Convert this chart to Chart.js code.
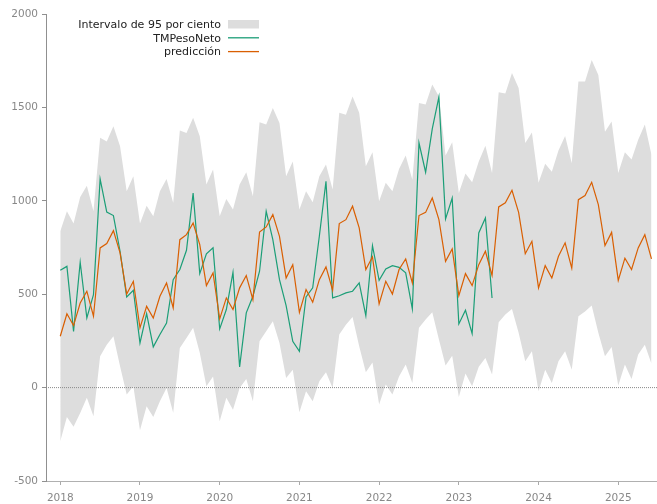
<!DOCTYPE html>
<html>
<head>
<meta charset="utf-8">
<script src="https://cdn.jsdelivr.net/npm/chart.js@4.4.0/dist/chart.umd.min.js"></script>
<style>
  html, body { margin: 0; padding: 0; background: #fff; }
  #wrap { width: 657px; height: 504px; }
</style>
</head>
<body>
<div id="wrap"><canvas id="chart" width="657" height="504"></canvas></div>
<script>
// serie mensual desde enero 2018
const startYear = 2018;
const yearTicks = [2018, 2019, 2020, 2021, 2022, 2023, 2024, 2025];
const yTicks = [-500, 0, 500, 1000, 1500, 2000];

const prediccion = [
  275, 395, 332, 453, 516, 382, 748, 771, 840, 721, 501, 569,
  320, 435, 373, 489, 560, 427, 792, 819, 881, 765, 546, 614,
  368, 480, 418, 534, 600, 471, 833, 860, 926, 810, 587, 658,
  403, 525, 457, 578, 646, 521, 878, 899, 971, 855, 632, 700,
  448, 569, 501, 632, 689, 560, 921, 938, 1015, 899, 676, 742,
  492, 610, 546, 658, 730, 600, 967, 989, 1056, 938, 717, 783,
  534, 653, 587, 703, 775, 640, 1006, 1028, 1099, 980, 760, 831,
  574, 693, 632, 748, 819, 689
];

const tmPesoNeto = [
  628, 649, 301, 671, 373, 498, 1117, 940, 921, 730, 485, 521,
  239, 396, 218, 284, 346, 578, 632, 735, 1042, 610, 716, 748,
  314, 418, 617, 111, 400, 489, 623, 944, 792, 578, 439, 248,
  194, 485, 534, 810, 1104, 480, 492, 507, 516, 560, 385, 760,
  574, 635, 653, 644, 614, 421, 1310, 1153, 1385, 1556, 903, 1015,
  341, 414, 289, 828, 908, 480
];

const upper95 = [
  837, 944, 878, 1021, 1081, 944, 1337, 1318, 1399, 1292, 1051, 1131,
  878, 974, 917, 1051, 1117, 990, 1377, 1363, 1444, 1345, 1087, 1167,
  917, 1010, 953, 1087, 1153, 1024, 1420, 1408, 1497, 1417, 1131, 1211,
  953, 1051, 992, 1131, 1194, 1060, 1471, 1461, 1559, 1471, 1185, 1260,
  997, 1096, 1051, 1170, 1242, 1113, 1524, 1515, 1622, 1559, 1242, 1313,
  1042, 1146, 1099, 1211, 1295, 1149, 1581, 1574, 1684, 1604, 1310, 1366,
  1096, 1199, 1156, 1269, 1347, 1201, 1638, 1638, 1754, 1674, 1370, 1424,
  1149, 1260, 1221, 1327, 1408, 1247
];

const lower95 = [
  -287, -157, -210, -136, -55, -153, 168, 230, 275, 114, -37, 7,
  -228, -100, -157, -73, -2, -135, 212, 266, 320, 186, 7, 60,
  -180, -55, -118, -2, 46, -73, 248, 301, 355, 239, 52, 96,
  -132, -20, -73, 34, 82, -2, 284, 337, 378, 221, 82, 135,
  -91, 16, -37, 60, 123, 25, 320, 364, 403, 257, 118, 171,
  -50, 75, 7, 111, 159, 70, 350, 391, 421, 293, 141, 194,
  -20, 96, 25, 141, 194, 96, 382, 408, 439, 293, 168, 218,
  11, 123, 46, 177, 230, 128
];

const X_MIN = 2017.821;
const X_MAX = 2025.486;
const bandColor = '#dddddd';
const greenColor = '#1b9e77';
const orangeColor = '#d95f02';

function toPoints(values) {
  return values.map((v, i) => ({ x: startYear + i / 12, y: v }));
}

// leyenda con el texto a la izquierda y la muestra a la derecha
const legendBox = {
  id: 'legendBox',
  afterDraw(chart) {
    const ctx = chart.ctx;
    const ds = chart.data.datasets;
    const items = [
      { label: ds[0].label, box: true, color: bandColor },
      { label: ds[3].label, box: false, color: greenColor },
      { label: ds[4].label, box: false, color: orangeColor }
    ];
    ctx.save();
    ctx.font = '11px "DejaVu Sans"';
    ctx.textAlign = 'right';
    ctx.textBaseline = 'middle';
    items.forEach((it, i) => {
      const y = 25 + i * 13.8;
      ctx.fillStyle = '#222';
      ctx.fillText(it.label, 221, y);
      if (it.box) {
        ctx.fillStyle = it.color;
        ctx.fillRect(228, y - 5, 31, 8.5);
      } else {
        ctx.strokeStyle = it.color;
        ctx.lineWidth = 1.3;
        ctx.beginPath();
        ctx.moveTo(228, y - 1);
        ctx.lineTo(259, y - 1);
        ctx.stroke();
      }
    });
    ctx.restore();
  }
};

Chart.defaults.font.family = '"DejaVu Sans", sans-serif';

new Chart(document.getElementById('chart'), {
  type: 'line',
  data: {
    datasets: [
      {
        label: 'Intervalo de 95 por ciento',
        data: toPoints(upper95),
        borderColor: 'rgba(0,0,0,0)',
        borderWidth: 0,
        backgroundColor: bandColor,
        fill: '+1',
        pointRadius: 0,
        order: 4
      },
      {
        label: 'lower',
        data: toPoints(lower95),
        borderColor: 'rgba(0,0,0,0)',
        borderWidth: 0,
        fill: false,
        pointRadius: 0,
        order: 5
      },
      {
        label: 'cero',
        data: [{ x: X_MIN, y: 0 }, { x: X_MAX, y: 0 }],
        borderColor: '#8a8a8a',
        borderWidth: 1,
        borderDash: [1, 1],
        fill: false,
        pointRadius: 0,
        order: 3
      },
      {
        label: 'TMPesoNeto',
        data: toPoints(tmPesoNeto),
        borderColor: greenColor,
        borderWidth: 1.2,
        fill: false,
        pointRadius: 0,
        order: 2
      },
      {
        label: 'predicción',
        data: toPoints(prediccion),
        borderColor: orangeColor,
        borderWidth: 1.2,
        fill: false,
        pointRadius: 0,
        order: 1
      }
    ]
  },
  options: {
    responsive: false,
    devicePixelRatio: 1,
    animation: false,
    layout: { padding: { top: 14, right: 0, left: 0, bottom: 0 } },
    plugins: {
      legend: { display: false },
      tooltip: { enabled: false }
    },
    elements: { line: { tension: 0 } },
    scales: {
      x: {
        type: 'linear',
        min: X_MIN,
        max: X_MAX,
        afterBuildTicks: (scale) => { scale.ticks = yearTicks.map(v => ({ value: v })); },
        afterFit: (scale) => { scale.height = 23; },
        ticks: {
          color: '#888',
          font: { size: 10.5 },
          padding: 7,
          maxRotation: 0,
          callback: (v) => String(v)
        },
        grid: { drawOnChartArea: false, tickLength: 4, color: '#aaa' },
        border: { color: '#b0b0b0', width: 1 }
      },
      y: {
        min: -500,
        max: 2000,
        afterBuildTicks: (scale) => { scale.ticks = yTicks.map(v => ({ value: v })); },
        afterFit: (scale) => { scale.width = 46; },
        ticks: {
          color: '#888',
          font: { size: 10.5 },
          padding: 4,
          callback: (v) => String(v)
        },
        grid: { drawOnChartArea: false, tickLength: 4, color: '#909090' },
        border: { color: '#909090', width: 1 }
      }
    }
  },
  plugins: [legendBox]
});
</script>
</body>
</html>
